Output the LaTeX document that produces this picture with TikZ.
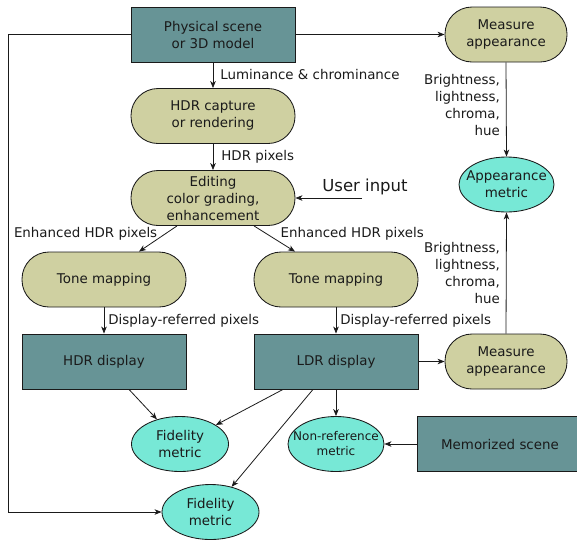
\documentclass[tikz,border=0pt]{standalone}
\usepackage{fontspec}
\setmainfont{DejaVu Sans}
\usetikzlibrary{shapes.geometric,arrows.meta}
\definecolor{tealbox}{HTML}{679496}
\definecolor{beigepill}{HTML}{CFD0A1}
\definecolor{cyanoval}{HTML}{77E8D6}
\definecolor{ink}{HTML}{1A1A1A}
\tikzset{
  basenode/.style={draw=ink, line width=0.85pt, text=ink, align=center,
    font=\fontsize{13.4}{17}\selectfont, inner sep=1pt},
  boxnode/.style={basenode, rectangle, fill=tealbox, minimum width=164pt, minimum height=55pt},
  pillnode/.style={basenode, rectangle, rounded corners=27pt, fill=beigepill,
    minimum width=164pt, minimum height=55pt},
  ovalnode/.style={basenode, ellipse, fill=cyanoval, minimum width=97pt,
    minimum height=55pt, inner sep=-14pt},
  conn/.style={draw=ink, line width=0.8pt, -{Stealth[length=7pt,width=5.5pt,inset=2pt]}},
  lbl/.style={text=ink, font=\fontsize{13.4}{17}\selectfont, inner sep=0pt, align=right},
}
\begin{document}
\begin{tikzpicture}[x=1pt,y=-1pt]
\useasboundingbox (0,0) rectangle (577,539);
% nodes
\node[boxnode] (phys) at (213,34.5) {Physical scene\\or 3D model};
\node[pillnode, minimum width=122pt] (meas1) at (506,34.5) {Measure\\appearance};
\node[pillnode] (cap) at (213,116) {HDR capture\\or rendering};
\node[pillnode] (edit) at (213,198) {Editing\\color grading,\\enhancement};
\node[text=ink, font=\fontsize{16.5}{20}\selectfont, inner sep=0pt] (ui) at (365,187) {User input};
\coordinate (uistart) at (362,198);
\node[ovalnode, minimum width=95pt] (appm) at (506.5,184.5) {Appearance\\metric};
\node[pillnode] (tone1) at (104,279.5) {Tone mapping};
\node[pillnode] (tone2) at (336,279.5) {Tone mapping};
\node[boxnode] (hdrd) at (104,361.5) {HDR display};
\node[boxnode] (ldrd) at (336,361.5) {LDR display};
\node[pillnode, minimum width=122pt] (meas2) at (506,361.5) {Measure\\appearance};
\node[ovalnode] (fid1) at (180,444) {Fidelity\\metric};
\node[ovalnode, minimum width=96pt, font=\fontsize{12}{15}\selectfont] (nonref) at (336,444) {Non-reference\\metric};
\node[boxnode, minimum width=166pt] (memo) at (500,444) {Memorized scene};
\node[ovalnode] (fid2) at (210.5,512) {Fidelity\\metric};
% connectors
\draw[conn] (phys.east) -- (meas1.west);
\draw[conn] (phys.west) -- ++(-122,0) |- (fid2.west);
\draw[conn] (phys.south) -- (cap.north)
  node[lbl, midway, anchor=west, xshift=7pt, yshift=1pt] {Luminance \& chrominance};
\draw[conn] (cap.south) -- (edit.north)
  node[lbl, midway, anchor=west, xshift=8pt] {HDR pixels};
\draw[conn] (uistart) -- (edit.east);
\draw[conn] ([xshift=-36pt]edit.south) -- ([xshift=35pt]tone1.north)
  node[lbl, pos=0.3, anchor=east, xshift=-8pt] {Enhanced HDR pixels};
\draw[conn] ([xshift=41pt]edit.south) -- ([xshift=-41pt]tone2.north)
  node[lbl, pos=0.3, anchor=west, xshift=14pt] {Enhanced HDR pixels};
\draw[conn] (tone1.south) -- (hdrd.north)
  node[lbl, midway, anchor=west, xshift=4pt] {Display-referred pixels};
\draw[conn] (tone2.south) -- (ldrd.north)
  node[lbl, midway, anchor=west, xshift=4pt] {Display-referred pixels};
\draw[conn] (meas1.south) -- (appm.north)
  node[lbl, pos=0.45, anchor=east, xshift=-6pt] {Brightness,\\lightness,\\chroma,\\hue};
\draw[conn] (meas2.north) -- (appm.south)
  node[lbl, midway, anchor=east, xshift=-6pt] {Brightness,\\lightness,\\chroma,\\hue};
\draw[conn] (ldrd.east) -- (meas2.west);
\draw[conn] ([xshift=25pt]hdrd.south) -- (fid1);
\draw[conn] ([xshift=-53pt]ldrd.south) -- (fid1);
\draw[conn] ([xshift=-23pt]ldrd.south) -- (fid2);
\draw[conn] (ldrd.south) -- (nonref.north);
\draw[conn] (memo.west) -- (nonref.east);
\end{tikzpicture}
\end{document}
